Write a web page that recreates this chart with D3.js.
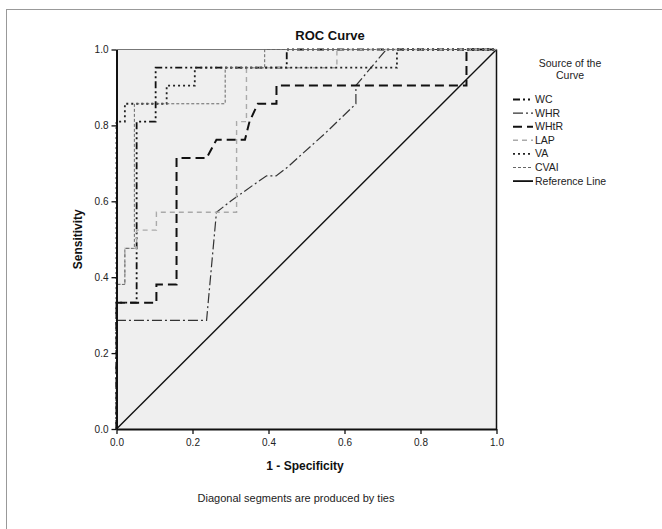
<!DOCTYPE html>
<html><head><meta charset="utf-8">
<script src="https://cdn.jsdelivr.net/npm/d3@7"></script>
<style>body{margin:0;background:#fff}svg{display:block;font-family:"Liberation Sans",Arial,sans-serif}</style>
</head><body><svg id="c" width="662" height="529"></svg>
<script>
const seriesNames = ["WC","WHR","WHtR","LAP","VA","CVAI"];
const WC   = [[0,0],[0,0.333],[0.053,0.333],[0.053,0.81],[0.103,0.81],[0.103,0.952],[0.448,0.952],[0.448,1],[1,1]];
const WHR  = [[0,0],[0,0.286],[0.237,0.286],[0.263,0.571],[0.30,0.60],[0.36,0.643],[0.395,0.667],[0.42,0.667],[0.45,0.69],[0.55,0.78],[0.63,0.857],[0.63,0.905],[0.71,1],[1,1]];
const WHtR = [[0,0],[0,0.333],[0.105,0.333],[0.105,0.381],[0.158,0.381],[0.158,0.714],[0.237,0.714],[0.263,0.762],[0.338,0.762],[0.35,0.81],[0.372,0.857],[0.421,0.857],[0.421,0.905],[0.921,0.905],[0.921,1],[1,1]];
const LAP  = [[0,0],[0,0.381],[0.022,0.381],[0.022,0.476],[0.053,0.476],[0.053,0.524],[0.105,0.524],[0.105,0.571],[0.316,0.571],[0.316,0.81],[0.342,0.81],[0.342,0.952],[0.58,0.952],[0.58,1],[1,1]];
const VA   = [[0,0],[0,0.81],[0.022,0.81],[0.022,0.857],[0.132,0.857],[0.132,0.905],[0.206,0.905],[0.206,0.952],[0.738,0.952],[0.738,1],[1,1]];
const CVAI = [[0,0],[0,0.381],[0.022,0.381],[0.022,0.476],[0.047,0.476],[0.047,0.857],[0.286,0.857],[0.286,0.952],[0.39,0.952],[0.39,1],[1,1]];
const referenceLine = [[0,0],[1,1]];
const tickValues = [0,0.2,0.4,0.6,0.8,1.0];
const tickLabels = ["0.0","0.2","0.4","0.6","0.8","1.0"];

const seriesData = [WC,WHR,WHtR,LAP,VA,CVAI];
const styles = [
  {stroke:"#111", w:1.8, dash:"7,3,2,3,2,3"},
  {stroke:"#333", w:1.2, dash:"10,3,2,3"},
  {stroke:"#111", w:2.0, dash:"9,5"},
  {stroke:"#aaa", w:1.4, dash:"5,4"},
  {stroke:"#222", w:1.8, dash:"2,3"},
  {stroke:"#666", w:1.0, dash:"3,2"}
];

const svg = d3.select("#c");
svg.append("rect").attr("x",6.5).attr("y",9.5).attr("width",700).attr("height",600)
  .attr("fill","none").attr("stroke","#999");

const L=116.5, R=496.5, T=49.5, B=429;
const x = d3.scaleLinear().domain([0,1]).range([L,R]);
const y = d3.scaleLinear().domain([0,1]).range([B,T]);

svg.append("rect").attr("x",L).attr("y",T).attr("width",R-L).attr("height",B-T).attr("fill","#efefef");
svg.append("line").attr("x1",L).attr("x2",R).attr("y1",T).attr("y2",T).attr("stroke","#777").attr("stroke-width",1);
svg.append("line").attr("x1",R).attr("x2",R).attr("y1",T).attr("y2",B).attr("stroke","#111").attr("stroke-width",1.5);

const line = d3.line().x(d=>x(d[0])).y(d=>y(d[1]));
const g = svg.append("g");
g.append("path").datum(referenceLine).attr("d",line).attr("fill","none").attr("stroke","#111").attr("stroke-width",1.4);
seriesData.forEach((s,i)=>{
  g.append("path").datum(s).attr("d",line).attr("fill","none")
   .attr("stroke",styles[i].stroke).attr("stroke-width",styles[i].w).attr("stroke-dasharray",styles[i].dash);
});

const fmt = d => tickLabels[tickValues.indexOf(d)];
const xa = svg.append("g").attr("transform",`translate(0,${B})`)
  .call(d3.axisBottom(x).tickValues(tickValues).tickFormat(fmt).tickSize(5).tickSizeOuter(0));
const ya = svg.append("g").attr("transform",`translate(${L},0)`)
  .call(d3.axisLeft(y).tickValues(tickValues).tickFormat(fmt).tickSize(5).tickSizeOuter(0));
[xa,ya].forEach(a=>{
  a.selectAll(".domain").attr("stroke","#111").attr("stroke-width",2);
  a.selectAll(".tick line").attr("stroke","#111").attr("stroke-width",1.3);
  a.selectAll("text").attr("font-size",10).attr("fill","#222").attr("font-family","Liberation Sans, Arial, sans-serif");
});
xa.selectAll("text").attr("dy","0.9em");

svg.append("text").attr("x",330).attr("y",40).attr("text-anchor","middle")
  .attr("font-size",13).attr("font-weight","bold").attr("fill","#111").text("ROC Curve");
svg.append("text").attr("x",305).attr("y",470).attr("text-anchor","middle")
  .attr("font-size",12).attr("font-weight","bold").attr("fill","#111").text("1 - Specificity");
svg.append("text").attr("transform",`translate(82,${(T+B)/2}) rotate(-90)`).attr("text-anchor","middle")
  .attr("font-size",12).attr("font-weight","bold").attr("fill","#111").text("Sensitivity");
svg.append("text").attr("x",296).attr("y",502).attr("text-anchor","middle")
  .attr("font-size",11).attr("fill","#222").text("Diagonal segments are produced by ties");

// legend
const lg = svg.append("g");
lg.append("text").attr("x",570).attr("y",67).attr("text-anchor","middle").attr("font-size",10.5).attr("fill","#222").text("Source of the");
lg.append("text").attr("x",570).attr("y",79).attr("text-anchor","middle").attr("font-size",10.5).attr("fill","#222").text("Curve");
const legendNames = seriesNames.concat(["Reference Line"]);
const legendStyles = styles.concat([{stroke:"#111", w:1.8, dash:null}]);
legendNames.forEach((n,i)=>{
  const yy = 99.5 + i*13.6;
  lg.append("line").attr("x1",513).attr("x2",533).attr("y1",yy).attr("y2",yy)
    .attr("stroke",legendStyles[i].stroke).attr("stroke-width",legendStyles[i].w)
    .attr("stroke-dasharray",legendStyles[i].dash);
  lg.append("text").attr("x",535).attr("y",yy+3.5).attr("font-size",10.5).attr("fill","#222").text(n);
});
</script></body></html>
